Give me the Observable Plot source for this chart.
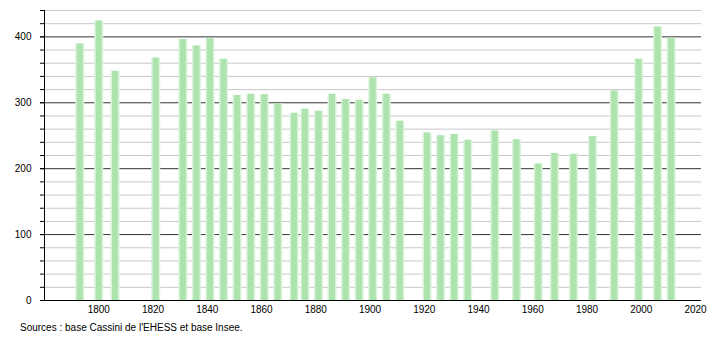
<!DOCTYPE html>
<html>
<head>
<meta charset="utf-8">
<script src="https://cdn.jsdelivr.net/npm/d3@7"></script>
<script src="https://cdn.jsdelivr.net/npm/@observablehq/plot@0.6"></script>
<style>
  html, body { margin: 0; padding: 0; background: #fff; }
  #chart { width: 710px; }
  #chart svg { display: block; }
  .caption { font-family: "Liberation Sans", Arial, sans-serif; font-size: 10px; color: #000; margin: 4px 0 0 20px; line-height: 12px; }
</style>
</head>
<body>
<div id="chart"></div>
<div class="caption">Sources : base Cassini de l'EHESS et base Insee.</div>
<script>
const years = [1793, 1800, 1806, 1821, 1831, 1836, 1841, 1846, 1851, 1856, 1861, 1866, 1872, 1876, 1881, 1886, 1891, 1896, 1901, 1906, 1911, 1921, 1926, 1931, 1936, 1946, 1954, 1962, 1968, 1975, 1982, 1990, 1999, 2006, 2011];
const population = [389, 424, 348, 368, 396, 386, 397, 366, 311, 313, 312, 299, 284, 290, 287, 313, 305, 304, 338, 313, 272, 254, 250, 252, 243, 257, 244, 207, 223, 222, 249, 318, 366, 415, 398];
const xTicks = [1800, 1820, 1840, 1860, 1880, 1900, 1920, 1940, 1960, 1980, 2000, 2020];
const yMajor = [0, 100, 200, 300, 400];
const yMinor = d3.range(20, 441, 20).filter(v => v % 100 !== 0);
const yAllTicks = d3.range(0, 441, 20);

const data = years.map((y, i) => ({year: y, pop: population[i]}));

const chart = Plot.plot({
  width: 710,
  height: 318,
  marginLeft: 44,
  marginRight: 9,
  marginTop: 10,
  marginBottom: 18,
  style: {fontFamily: "'Liberation Sans', Arial, sans-serif", fontSize: "10px", color: "#000", background: "#fff"},
  x: {domain: [1780, 2022.2]},
  y: {domain: [0, 440]},
  marks: [
    Plot.gridY(yMinor, {stroke: "#c8c8c8", strokeOpacity: 1}),
    Plot.gridY([100, 200, 300, 400], {stroke: "#333", strokeOpacity: 1}),
    Plot.ruleX(data, {x: "year", y1: 0, y2: "pop", stroke: "#daf3da", strokeWidth: 9}),
    Plot.ruleX(data, {x: "year", y1: 0, y2: "pop", stroke: "#ade3ad", strokeWidth: 6}),
    Plot.axisY(yAllTicks, {tickSize: 4, tickFormat: () => "", label: null}),
    Plot.axisY(yMajor, {tickSize: 4, tickPadding: 9, label: null}),
    Plot.axisX(xTicks, {tickSize: 0, tickPadding: 5, label: null, tickFormat: d => String(d)}),
    Plot.ruleX([1780], {y1: 0, y2: 440, stroke: "#000"}),
    Plot.ruleY([0], {stroke: "#000"})
  ]
});
document.getElementById("chart").appendChild(chart);
</script>
</body>
</html>
